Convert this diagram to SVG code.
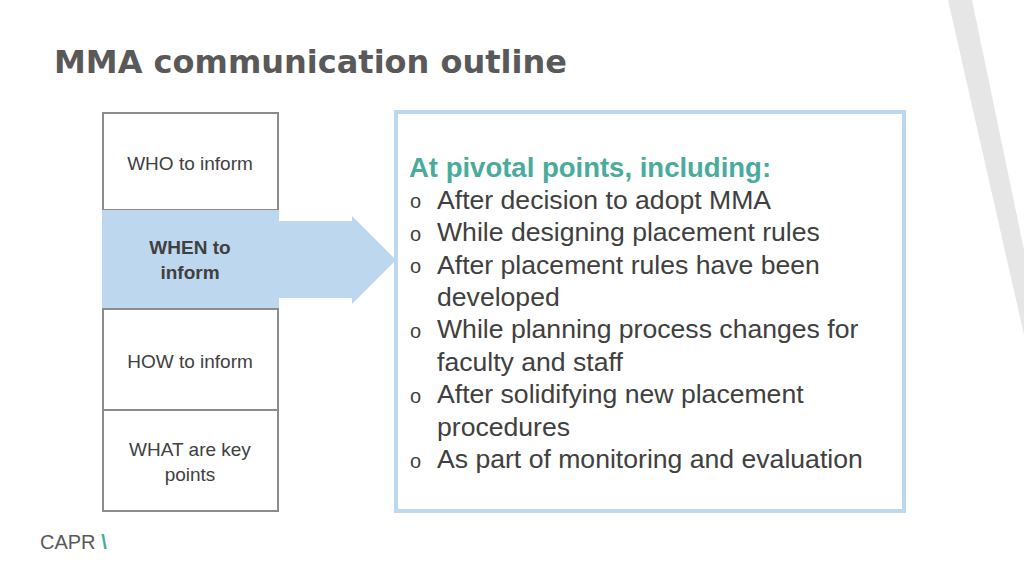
<svg xmlns="http://www.w3.org/2000/svg" width="1024" height="576" viewBox="0 0 1024 576">
<style>
text{font-family:"Liberation Sans",Arial,sans-serif}
.box{fill:#fff;stroke:#8c8c8c;stroke-width:2}
.lbl{font-size:19px;fill:#404040;text-anchor:middle}
.item{font-size:26.6px;fill:#404040}
.bul{font-size:20px;fill:#404040}
</style>
<rect width="1024" height="576" fill="#fff"/>
<polygon points="948,0 972,0 1024,250 1024,335" fill="#e6e6e6"/>
<text x="54" y="73" font-size="32" font-weight="bold" fill="#595959" style="font-family:'DejaVu Sans',sans-serif" textLength="513" lengthAdjust="spacingAndGlyphs">MMA communication outline</text>
<g id="connectors">
<polygon points="279,221 352,221 352,216 396,260 352,304 352,298 279,298" fill="#bdd7ee"/>
</g>
<g id="who"><rect class="box" x="103" y="113" width="175" height="97"/><text class="lbl" x="190" y="170">WHO to inform</text></g>
<g id="when"><rect x="102" y="210" width="177" height="98" fill="#bdd7ee"/><text class="lbl" x="190" y="254" font-weight="bold" fill="#595959">WHEN to</text><text class="lbl" x="190" y="279" font-weight="bold" fill="#595959">inform</text></g>
<g id="how"><rect class="box" x="103" y="309" width="175" height="101"/><text class="lbl" x="190" y="368">HOW to inform</text></g>
<g id="what"><rect class="box" x="103" y="410" width="175" height="101"/><text class="lbl" x="190" y="456">WHAT are key</text><text class="lbl" x="190" y="481">points</text></g>
<g id="panel">
<rect x="396" y="112" width="508" height="399" fill="#fff" stroke="#bdd7ee" stroke-width="4"/>
<text x="409" y="177" font-size="27.5" font-weight="bold" fill="#4aab9c">At pivotal points, including:</text>
<g class="bul"><text x="410" y="208">o</text><text x="410" y="241">o</text><text x="410" y="273">o</text><text x="410" y="338">o</text><text x="410" y="403">o</text><text x="410" y="468">o</text></g>
<g class="item">
<text x="437" y="209">After decision to adopt MMA</text>
<text x="437" y="241">While designing placement rules</text>
<text x="437" y="274">After placement rules have been</text>
<text x="437" y="306">developed</text>
<text x="437" y="338">While planning process changes for</text>
<text x="437" y="371">faculty and staff</text>
<text x="437" y="403">After solidifying new placement</text>
<text x="437" y="436">procedures</text>
<text x="437" y="468">As part of monitoring and evaluation</text>
</g>
</g>
<text x="40" y="549" font-size="20" fill="#595959">CAPR <tspan fill="#4aab9c" font-weight="bold">\</tspan></text>
</svg>
